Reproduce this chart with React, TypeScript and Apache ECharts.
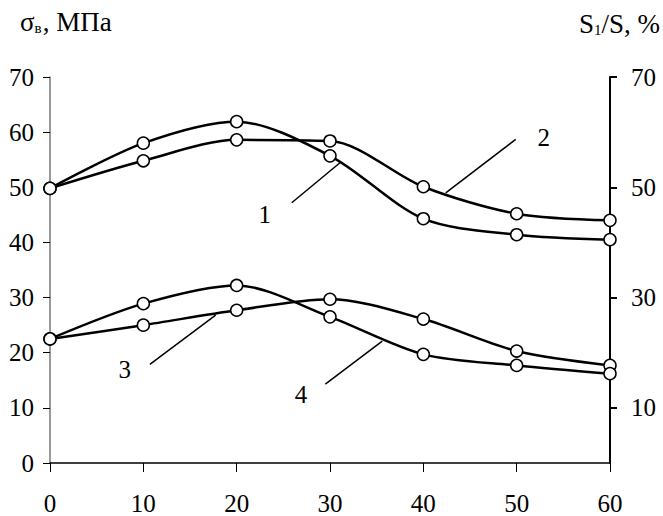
import React, { useEffect, useRef } from "react";
import * as echarts from "echarts";

const xValues = [0, 10, 20, 30, 40, 50, 60];
const curve1 = [49.8, 58.0, 61.9, 55.7, 44.3, 41.4, 40.5];
const curve2 = [49.8, 54.8, 58.6, 58.4, 50.1, 45.2, 44.0];
const curve3 = [22.5, 25.0, 27.7, 29.7, 26.1, 20.3, 17.7];
const curve4 = [22.5, 28.9, 32.2, 26.5, 19.7, 17.7, 16.2];
const rightTicks = [10, 30, 50, 70];
const curveNames = ["1", "2", "3", "4"];
// leader lines: [start, end] in data coordinates, and label positions
const leaders = [
  [[25.9, 47.2], [31.1, 54.5]],
  [[49.9, 58.7], [42.4, 49.0]],
  [[10.7, 17.9], [17.75, 26.8]],
  [[29.5, 14.3], [35.6, 22.1]],
];
const labelPos = [
  [23.0, 45.0],
  [52.9, 59.0],
  [8.0, 17.0],
  [26.9, 12.5],
];

const FONT = "Liberation Serif";

export default function App() {
  const ref = useRef<HTMLDivElement>(null);
  useEffect(() => {
    if (!ref.current) return;
    const chart = echarts.init(ref.current, undefined, { renderer: "svg" });
    const all = [curve1, curve2, curve3, curve4];
    const series = all.map((vals, i) => ({
      type: "line",
      name: curveNames[i],
      data: xValues.map((x, j) => [x, vals[j]]),
      smooth: 0.3,
      symbol: "circle",
      symbolSize: 12,
      showAllSymbol: true,
      lineStyle: { color: "#000", width: 2.5 },
      itemStyle: { color: "#fff", borderColor: "#000", borderWidth: 1.5 },
      z: 3,
      markLine: {
        silent: true,
        symbol: ["none", "none"],
        lineStyle: { color: "#000", width: 1.5, type: "solid" },
        label: { show: false },
        data: [[{ coord: leaders[i][0] }, { coord: leaders[i][1] }]],
      },
      markPoint: {
        silent: true,
        symbol: "circle",
        symbolSize: 1,
        itemStyle: { color: "rgba(0,0,0,0)" },
        label: {
          show: true,
          position: "inside",
          formatter: curveNames[i],
          color: "#000",
          fontSize: 25,
          fontFamily: FONT,
        },
        data: [{ coord: labelPos[i], value: curveNames[i] }],
      },
    }));
    chart.setOption({
      animation: false,
      backgroundColor: "#fff",
      textStyle: { fontFamily: FONT },
      grid: { left: 50, right: 53, top: 77, bottom: 53 },
      xAxis: {
        type: "value",
        min: 0,
        max: 60,
        interval: 10,
        axisLine: { lineStyle: { color: "#000", width: 1.5 } },
        axisTick: { inside: false, length: 9, lineStyle: { color: "#000", width: 1 } },
        splitLine: { show: false },
        axisLabel: { margin: 28, color: "#000", fontSize: 25, fontFamily: FONT },
      },
      yAxis: [
        {
          type: "value",
          position: "left",
          min: 0,
          max: 70,
          interval: 10,
          axisLine: { show: true, onZero: false, lineStyle: { color: "#777", width: 1.5 } },
          axisTick: { show: true, inside: false, length: 7, lineStyle: { color: "#000", width: 1 } },
          splitLine: { show: false },
          axisLabel: { margin: 16, color: "#000", fontSize: 25, fontFamily: FONT },
        },
        {
          type: "value",
          position: "right",
          min: 0,
          max: 70,
          axisLine: { show: true, onZero: false, lineStyle: { color: "#000", width: 2 } },
          axisTick: {
            show: true,
            inside: false,
            length: 7,
            customValues: rightTicks,
            lineStyle: { color: "#000", width: 2 },
          },
          splitLine: { show: false },
          axisLabel: {
            margin: 21,
            color: "#000",
            fontSize: 25,
            fontFamily: FONT,
            customValues: rightTicks,
          },
        },
      ],
      graphic: [
        {
          type: "text",
          left: 20,
          top: 8,
          style: {
            text: "{a|σ}{b|в}{a|, МПа}",
            fill: "#000",
            rich: {
              a: { fontSize: 27, fontFamily: FONT, lineHeight: 30, verticalAlign: "bottom" },
              b: { fontSize: 15, fontFamily: FONT, lineHeight: 16, verticalAlign: "bottom", padding: [0, 1, 0, 0] },
            },
          },
        },
        {
          type: "text",
          right: 3,
          top: 10,
          style: {
            text: "{a|S}{b|1}{a|/S, %}",
            fill: "#000",
            rich: {
              a: { fontSize: 27, fontFamily: FONT, lineHeight: 30, verticalAlign: "bottom" },
              b: { fontSize: 15, fontFamily: FONT, lineHeight: 16, verticalAlign: "bottom" },
            },
          },
        },
      ],
      series,
    });
    return () => chart.dispose();
  }, []);
  return (
    <div
      ref={ref}
      style={{ position: "fixed", left: 0, top: 0, width: 663, height: 516, background: "#fff" }}
    />
  );
}
